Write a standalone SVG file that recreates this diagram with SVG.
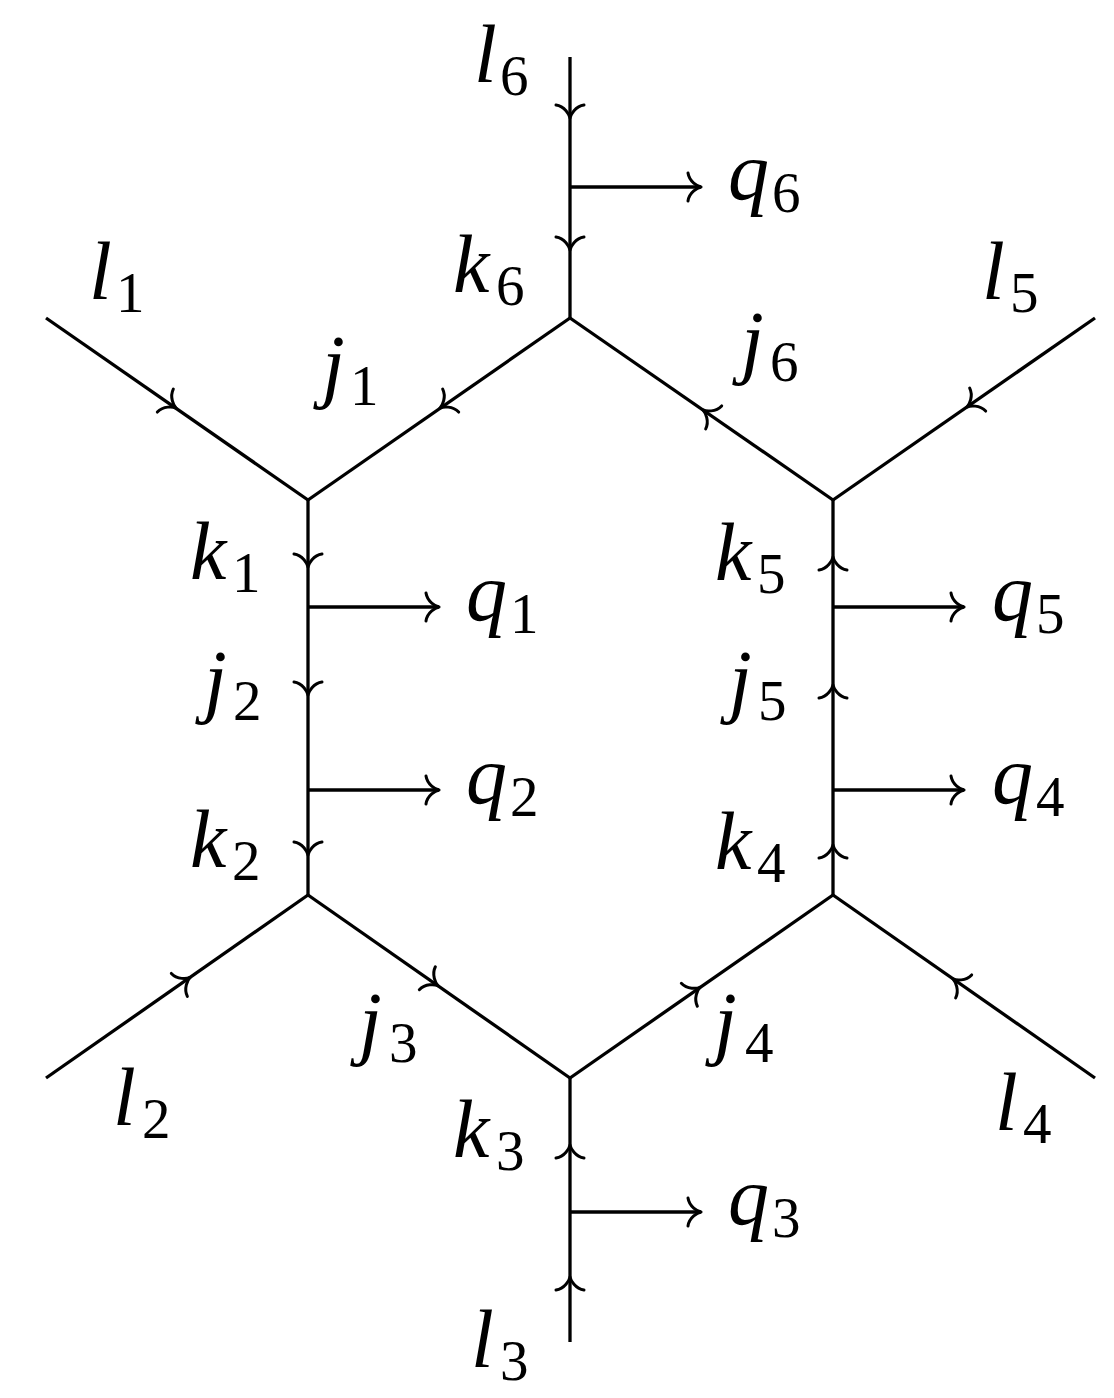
<svg xmlns="http://www.w3.org/2000/svg" xmlns:xlink="http://www.w3.org/1999/xlink" width="1114" height="1398" viewBox="0 0 1114 1398">
<style>
.ln{stroke:#000;stroke-width:3.3;fill:none;stroke-linecap:butt}
.m{font-family:"Liberation Serif",serif;font-style:italic;font-size:82px;fill:#000}
.s{font-family:"Liberation Serif",serif;font-style:normal;font-size:57px;fill:#000}
</style>
<defs>
<path id="ah" d="M-13,-14 C-11.7,-5.25 -3.3,-0.7 0,0 M-13,14 C-11.7,5.25 -3.3,0.7 0,0" fill="none" stroke="#000" stroke-width="3" stroke-linecap="round"/>
</defs>
<rect width="1114" height="1398" fill="#fff"/>
<g id="connectors">
<line class="ln" x1="570" y1="57" x2="570" y2="318"/>
<line class="ln" x1="46" y1="318" x2="308" y2="500"/>
<line class="ln" x1="570" y1="318" x2="308" y2="500"/>
<line class="ln" x1="570" y1="318" x2="833" y2="500"/>
<line class="ln" x1="1095" y1="318" x2="833" y2="500"/>
<line class="ln" x1="308" y1="500" x2="308" y2="895"/>
<line class="ln" x1="833" y1="500" x2="833" y2="895"/>
<line class="ln" x1="46" y1="1078" x2="308" y2="895"/>
<line class="ln" x1="308" y1="895" x2="570" y2="1078"/>
<line class="ln" x1="833" y1="895" x2="570" y2="1078"/>
<line class="ln" x1="1095" y1="1078" x2="833" y2="895"/>
<line class="ln" x1="570" y1="1078" x2="570" y2="1342"/>
<line class="ln" x1="570" y1="187" x2="701" y2="187"/>
<line class="ln" x1="308" y1="607" x2="439" y2="607"/>
<line class="ln" x1="308" y1="790" x2="439" y2="790"/>
<line class="ln" x1="833" y1="607" x2="964" y2="607"/>
<line class="ln" x1="833" y1="790" x2="964" y2="790"/>
<line class="ln" x1="570" y1="1212" x2="701" y2="1212"/>
<use xlink:href="#ah" transform="translate(701,187)"/>
<use xlink:href="#ah" transform="translate(439,607)"/>
<use xlink:href="#ah" transform="translate(439,790)"/>
<use xlink:href="#ah" transform="translate(964,607)"/>
<use xlink:href="#ah" transform="translate(964,790)"/>
<use xlink:href="#ah" transform="translate(701,1212)"/>
<use xlink:href="#ah" transform="translate(570,118) rotate(90)"/>
<use xlink:href="#ah" transform="translate(570,250) rotate(90)"/>
<use xlink:href="#ah" transform="translate(308,567) rotate(90)"/>
<use xlink:href="#ah" transform="translate(308,695) rotate(90)"/>
<use xlink:href="#ah" transform="translate(308,855) rotate(90)"/>
<use xlink:href="#ah" transform="translate(833,557) rotate(-90)"/>
<use xlink:href="#ah" transform="translate(833,685) rotate(-90)"/>
<use xlink:href="#ah" transform="translate(833,845) rotate(-90)"/>
<use xlink:href="#ah" transform="translate(570,1145) rotate(-90)"/>
<use xlink:href="#ah" transform="translate(570,1277) rotate(-90)"/>
<use xlink:href="#ah" transform="translate(176,408) rotate(34.8)"/>
<use xlink:href="#ah" transform="translate(440,408) rotate(145.2)"/>
<use xlink:href="#ah" transform="translate(703,410) rotate(-145.2)"/>
<use xlink:href="#ah" transform="translate(967,407) rotate(145.2)"/>
<use xlink:href="#ah" transform="translate(190,977.5) rotate(-34.9)"/>
<use xlink:href="#ah" transform="translate(438,985.7) rotate(34.9)"/>
<use xlink:href="#ah" transform="translate(700,987.3) rotate(-34.9)"/>
<use xlink:href="#ah" transform="translate(953,979) rotate(-145.1)"/>
</g>
<g id="labels">
<g id="l6"><text class="m" x="474" y="82">l</text><text class="s" x="500" y="95">6</text></g>
<g id="q6"><text class="m" x="728" y="199">q</text><text class="s" x="772" y="212">6</text></g>
<g id="k6"><text class="m" x="453" y="292">k</text><text class="s" x="496" y="305">6</text></g>
<g id="l1"><text class="m" x="89" y="299">l</text><text class="s" x="116" y="312">1</text></g>
<g id="l5"><text class="m" x="982" y="299">l</text><text class="s" x="1010" y="312">5</text></g>
<g id="j1"><text class="m" x="322" y="392">j</text><text class="s" x="350" y="405">1</text></g>
<g id="j6"><text class="m" x="741" y="368">j</text><text class="s" x="770" y="381">6</text></g>
<g id="k1"><text class="m" x="190" y="579">k</text><text class="s" x="232" y="592">1</text></g>
<g id="q1"><text class="m" x="466" y="620">q</text><text class="s" x="510" y="633">1</text></g>
<g id="j2"><text class="m" x="204" y="707">j</text><text class="s" x="233" y="720">2</text></g>
<g id="q2"><text class="m" x="466" y="803">q</text><text class="s" x="510" y="816">2</text></g>
<g id="k2"><text class="m" x="190" y="867">k</text><text class="s" x="232" y="880">2</text></g>
<g id="k5"><text class="m" x="715" y="580">k</text><text class="s" x="757" y="593">5</text></g>
<g id="q5"><text class="m" x="992" y="620">q</text><text class="s" x="1036" y="633">5</text></g>
<g id="j5"><text class="m" x="729" y="707">j</text><text class="s" x="758" y="720">5</text></g>
<g id="q4"><text class="m" x="992" y="803">q</text><text class="s" x="1036" y="816">4</text></g>
<g id="k4"><text class="m" x="715" y="869">k</text><text class="s" x="757" y="882">4</text></g>
<g id="j3"><text class="m" x="359" y="1049">j</text><text class="s" x="389" y="1062">3</text></g>
<g id="j4"><text class="m" x="714" y="1049">j</text><text class="s" x="745" y="1062">4</text></g>
<g id="l2"><text class="m" x="113" y="1125">l</text><text class="s" x="142" y="1138">2</text></g>
<g id="l4"><text class="m" x="995" y="1130">l</text><text class="s" x="1023" y="1143">4</text></g>
<g id="k3"><text class="m" x="453" y="1157">k</text><text class="s" x="496" y="1170">3</text></g>
<g id="q3"><text class="m" x="728" y="1224">q</text><text class="s" x="772" y="1237">3</text></g>
<g id="l3"><text class="m" x="471" y="1367">l</text><text class="s" x="500" y="1380">3</text></g>
</g>
</svg>
